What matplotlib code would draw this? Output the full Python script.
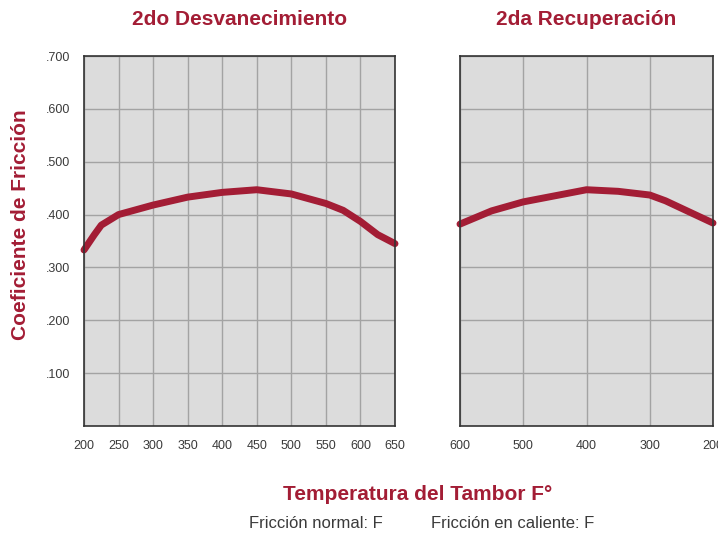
import matplotlib
matplotlib.use('Agg')
import matplotlib.pyplot as plt

# datos: 2do desvanecimiento (temperatura sube)
fade_temp = [200, 215, 225, 250, 300, 350, 400, 450, 500, 550, 575, 600, 625, 650]
fade_mu = [0.333, 0.362, 0.380, 0.400, 0.418, 0.433, 0.442, 0.447, 0.439, 0.421, 0.408, 0.387, 0.362, 0.345]

# datos: 2da recuperacion (temperatura baja)
rec_temp = [600, 550, 500, 400, 350, 300, 275, 200]
rec_mu = [0.382, 0.407, 0.424, 0.447, 0.444, 0.437, 0.426, 0.384]

fade_ticks = [200, 250, 300, 350, 400, 450, 500, 550, 600, 650]
rec_ticks = [600, 500, 400, 300, 200]
y_ticks = [0.1, 0.2, 0.3, 0.4, 0.5, 0.6, 0.7]
y_labels = ['.100', '.200', '.300', '.400', '.500', '.600', '.700']

plt.rcParams['font.family'] = ['Liberation Sans', 'DejaVu Sans']

red = '#A31D35'
grey_txt = '#3a3a3a'

fig = plt.figure(figsize=(7.18, 5.37), dpi=100)
W, H = 718, 537
ax1 = fig.add_axes([84 / W, 1 - 426 / H, (395 - 84) / W, (426 - 56) / H])
ax2 = fig.add_axes([460 / W, 1 - 426 / H, (713 - 460) / W, (426 - 56) / H])

for ax in (ax1, ax2):
    ax.set_facecolor('#DCDCDC')
    ax.set_ylim(0, 0.7)
    ax.set_yticks(y_ticks)
    ax.grid(True, color='#A3A3A3', linewidth=1.0)
    ax.set_axisbelow(True)
    ax.tick_params(length=0, labelsize=9, labelcolor=grey_txt, pad=10)
    for s in ax.spines.values():
        s.set_color('#333333')
        s.set_linewidth(1.2)

ax1.plot(fade_temp, fade_mu, color=red, linewidth=5, solid_capstyle='round', clip_on=False)
ax1.set_xlim(200, 650)
ax1.set_xticks(fade_ticks)
ax1.set_yticklabels(y_labels)
ax1.set_title('2do Desvanecimiento', color=red, fontsize=15, fontweight='bold', pad=22)

ax2.plot(rec_temp, rec_mu, color=red, linewidth=5, solid_capstyle='round', clip_on=False)
ax2.set_xlim(600, 200)
ax2.set_xticks(rec_ticks)
ax2.set_yticklabels([])
ax2.set_title('2da Recuperación', color=red, fontsize=15, fontweight='bold', pad=22)

fig.text(21 / W, 1 - 225 / H, 'Coeficiente de Fricción', color=red, fontsize=15,
         fontweight='bold', rotation=90, ha='center', va='center')
fig.text(418 / W, 1 - 494 / H, 'Temperatura del Tambor F°', color=red, fontsize=15,
         fontweight='bold', ha='center', va='center')
fig.text(316 / W, 1 - 524 / H, 'Fricción normal: F', color=grey_txt, fontsize=12,
         ha='center', va='center')
fig.text(513 / W, 1 - 524 / H, 'Fricción en caliente: F', color=grey_txt, fontsize=12,
         ha='center', va='center')

fig.savefig('out.png', dpi=100)
